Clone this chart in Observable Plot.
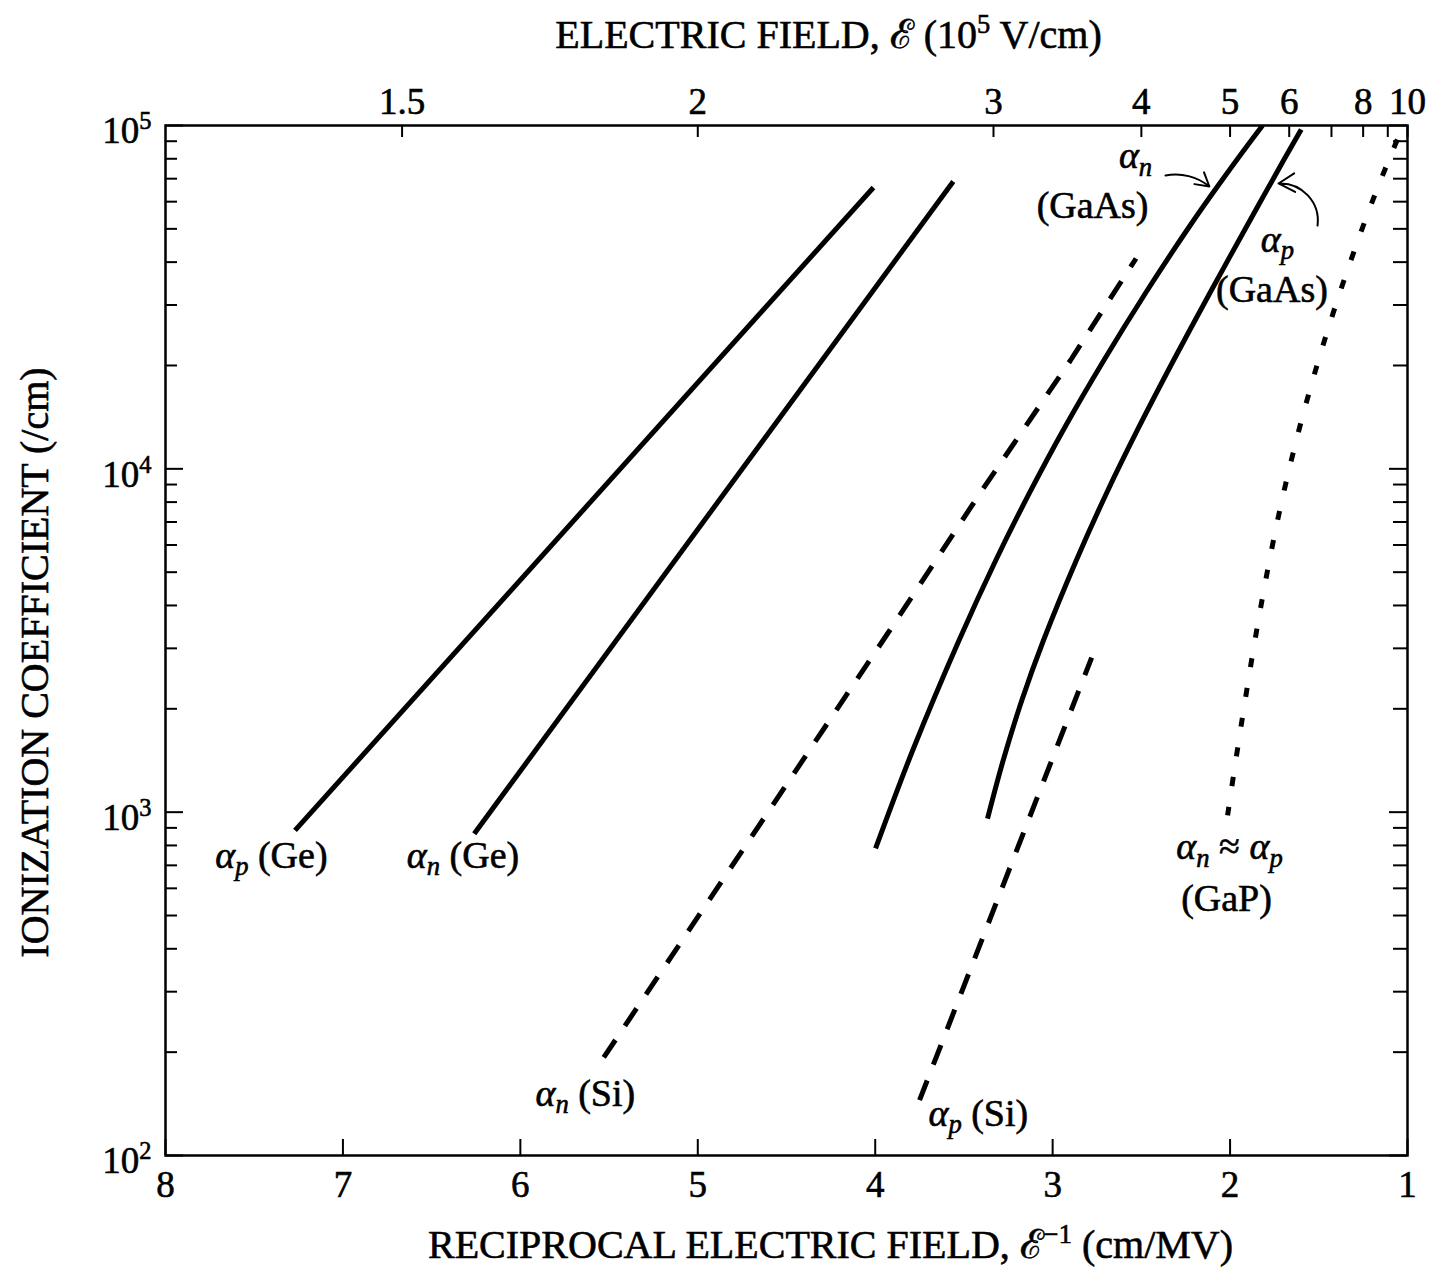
<!DOCTYPE html>
<html><head><meta charset="utf-8">
<script src="https://cdn.jsdelivr.net/npm/d3@7"></script>
<script src="https://cdn.jsdelivr.net/npm/@observablehq/plot@0.6"></script>
<style>
html,body{margin:0;padding:0;background:#fff;}
#chart svg text{stroke:#000;stroke-width:0.6px;}
</style>
</head><body><div id="chart"></div>
<script>
// ---- axis tick values ----
const bottomTicks = [8, 7, 6, 5, 4, 3, 2, 1];                 // reciprocal field, cm/MV
const topTicksField = [1.5, 2, 3, 4, 5, 6, 7, 8, 9, 10];      // field, 10^5 V/cm
const topLabelsField = [1.5, 2, 3, 4, 5, 6, 8, 10];
const decades = [100, 1000, 10000, 100000];
const minorMultipliers = [2, 3, 4, 5, 6, 7, 8, 9];

// ---- series: [1/E (cm/MV), ionization coefficient (/cm)] ----
const apGe = [[7.27, 885], [4.01, 66000]];
const anGe = [[6.26, 865], [3.56, 68700]];
const anSi = [[5.53, 193], [3.93, 3314], [3.41, 8477], [2.90, 20680], [2.53, 40990]];
const apSi = [[3.75, 145], [2.78, 2820]];
const anGaAs = [[3.998, 784], [3.789, 1512], [3.528, 3162], [3.321, 5408], [3.132, 8477], [2.932, 13195],
                [2.712, 20680], [2.478, 32410], [2.233, 50460], [2.067, 66880], [1.817, 100000]];
const apGaAs = [[3.367, 958], [3.279, 1414], [3.174, 2115], [3.052, 3162], [2.867, 5408], [2.697, 8477],
                [2.515, 13195], [2.319, 20680], [2.106, 33060], [1.910, 50460], [1.699, 79070], [1.599, 97350]];
const GaP = [[2.014, 978], [1.968, 1414], [1.860, 3162], [1.778, 5408], [1.699, 8477], [1.608, 13195],
             [1.502, 20680], [1.383, 32410], [1.253, 50460], [1.152, 69150], [1.036, 96700]];

// ---- annotations ----
const labelsStart = [
  {x: 7.72, y: 748, text: "*α*_{p} (Ge)"},
  {x: 6.64, y: 748, text: "*α*_{n} (Ge)"},
  {x: 5.915, y: 151.6, text: "*α*_{n} (Si)"},
  {x: 3.70, y: 132.6, text: "*α*_{p} (Si)"}
];
const labelsMiddle = [
  {x: 2.533, y: 81500, text: "*α*_{n}"},
  {x: 2.775, y: 58480, text: "(GaAs)"},
  {x: 1.733, y: 46600, text: "*α*_{p}"},
  {x: 1.764, y: 33300, text: "(GaAs)"},
  {x: 2.003, y: 790, text: "*α*_{n} ≈ *α*_{p}"},
  {x: 2.02, y: 560, text: "(GaP)"}
];
const arrowN = [{x1: 2.364, y1: 71500, x2: 2.1165, y2: 66430}];
const arrowP = [{x1: 1.507, y1: 51130, x2: 1.727, y2: 67790}];

const topTitle = ["ELECTRIC FIELD, ℰ (10^{5} V/cm)"];
const bottomTitle = ["RECIPROCAL ELECTRIC FIELD, ℰ^{−1} (cm/MV)"];
const leftTitle = ["IONIZATION COEFFICIENT (/cm)"];

// ---- layout ----
const W = 1432, H = 1278, mL = 165, mR = 25, mT = 125, mB = 123;
const plotW = W - mL - mR, plotH = H - mT - mB;
const minorY = decades.slice(0, 3).flatMap(d => minorMultipliers.map(m => m * d));
const fmt = d3.format("~g");

const X = d => d[0], Y = d => d[1];
const lineOpts = {x: X, y: Y, stroke: "black", strokeWidth: 5, strokeLinecap: "butt", strokeLinejoin: "round"};

const chart = Plot.plot({
  width: W, height: H,
  marginLeft: mL, marginRight: mR, marginTop: mT, marginBottom: mB,
  x: {type: "linear", domain: [8, 1]},
  y: {type: "log", domain: [100, 100000]},
  style: {fontFamily: "'Liberation Serif', 'DejaVu Serif', serif", fontSize: "36px", color: "black", background: "white"},
  marks: [
    // ticks (inward)
    Plot.tickX(bottomTicks, {x: d => d, insetTop: plotH - 16, stroke: "black", strokeWidth: 2}),
    Plot.tickX(topTicksField, {x: e => 10 / e, insetBottom: plotH - 12, stroke: "black", strokeWidth: 2}),
    Plot.tickY(decades, {y: d => d, insetRight: plotW - 18, stroke: "black", strokeWidth: 2}),
    Plot.tickY(minorY, {y: d => d, insetRight: plotW - 12, stroke: "black", strokeWidth: 2}),
    Plot.tickY(decades, {y: d => d, insetLeft: plotW - 18, stroke: "black", strokeWidth: 2}),
    Plot.tickY(minorY, {y: d => d, insetLeft: plotW - 14, stroke: "black", strokeWidth: 2}),
    Plot.frame({stroke: "black", strokeWidth: 2.5}),
    // axes labels
    Plot.axisX(bottomTicks, {anchor: "bottom", tickSize: 0, tickPadding: 15, fontSize: 37, tickFormat: d => String(d), label: null}),
    Plot.axisX(topLabelsField.map(e => 10 / e), {anchor: "top", tickSize: 0, tickPadding: 12, fontSize: 37, tickFormat: d => fmt(+(10 / d).toFixed(2)), label: null}),
    Plot.axisY(decades, {anchor: "left", tickSize: 0, tickPadding: 14, fontSize: 37, dy: 6, tickFormat: d => "10^{" + Math.round(Math.log10(d)) + "}", label: null}),
    // curves
    Plot.line(apGe, lineOpts),
    Plot.line(anGe, lineOpts),
    Plot.line(anSi, {...lineOpts, strokeDasharray: "21,17"}),
    Plot.line(apSi, {...lineOpts, strokeDasharray: "21,17"}),
    Plot.line(anGaAs, {...lineOpts, curve: "catmull-rom"}),
    Plot.line(apGaAs, {...lineOpts, curve: "catmull-rom"}),
    Plot.line(GaP, {...lineOpts, strokeDasharray: "9,21", curve: "catmull-rom"}),
    // arrows
    Plot.arrow(arrowN, {x1: "x1", y1: "y1", x2: "x2", y2: "y2", bend: 25, headLength: 14, stroke: "black", strokeWidth: 2}),
    Plot.arrow(arrowP, {x1: "x1", y1: "y1", x2: "x2", y2: "y2", bend: -50, headLength: 14, stroke: "black", strokeWidth: 2}),
    // labels
    Plot.text(labelsStart, {x: "x", y: "y", text: "text", textAnchor: "start", fontSize: 38, fill: "black"}),
    Plot.text(labelsMiddle, {x: "x", y: "y", text: "text", textAnchor: "middle", fontSize: 38, fill: "black"}),
    // titles
    Plot.text(topTitle, {text: d => d, frameAnchor: "top", dx: 42, dy: -90, lineAnchor: "middle", textAnchor: "middle", fontSize: 40, fill: "black"}),
    Plot.text(bottomTitle, {text: d => d, frameAnchor: "bottom", dx: 44, dy: 90, lineAnchor: "middle", textAnchor: "middle", fontSize: 40, fill: "black"}),
    Plot.text(leftTitle, {text: d => d, frameAnchor: "left", rotate: -90, dx: -130, dy: 22, lineAnchor: "middle", textAnchor: "middle", fontSize: 40, fill: "black"})
  ]
});

// rich text: *italic*, _{sub} (italic), ^{sup}
function richify(root) {
  root.querySelectorAll("text").forEach(t => {
    if (t.querySelector("tspan")) return;
    const s = t.textContent;
    if (!/[\^_*]/.test(s)) return;
    const fs = parseFloat(getComputedStyle(t).fontSize) || 36;
    t.textContent = "";
    const re = /\^\{([^}]*)\}|_\{([^}]*)\}|\*([^*]*)\*|([^\^_*]+)/g;
    let m, cur = 0;
    while ((m = re.exec(s))) {
      const ts = document.createElementNS("http://www.w3.org/2000/svg", "tspan");
      let target = 0, txt;
      if (m[1] != null) { txt = m[1]; target = -0.38 * fs; ts.setAttribute("font-size", (0.66 * fs) + "px"); }
      else if (m[2] != null) { txt = m[2]; target = 0.20 * fs; ts.setAttribute("font-size", (0.70 * fs) + "px"); ts.setAttribute("font-style", "italic"); }
      else if (m[3] != null) { txt = m[3]; ts.setAttribute("font-style", "italic"); }
      else { txt = m[4]; }
      if (target !== cur) { ts.setAttribute("dy", target - cur); cur = target; }
      ts.textContent = txt;
      t.appendChild(ts);
    }
  });
}
document.getElementById("chart").appendChild(chart);
richify(chart);
</script>
</body></html>
